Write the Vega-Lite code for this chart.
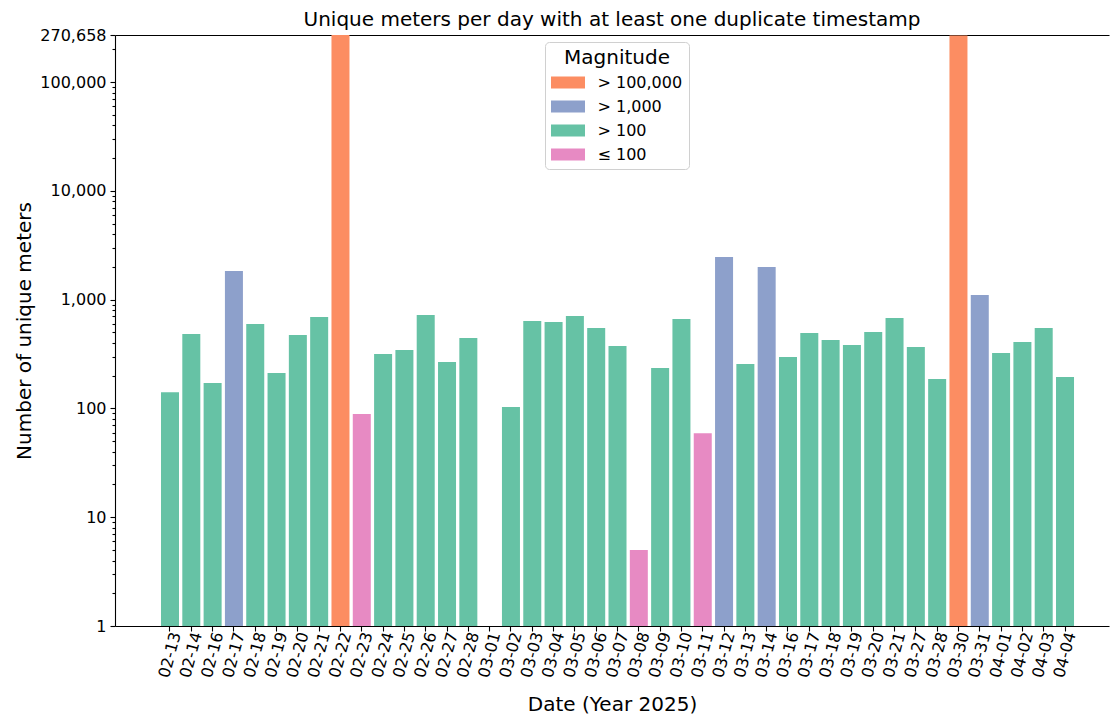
{
  "$schema": "https://vega.github.io/schema/vega-lite/v6.json",
  "autosize": "none",
  "width": 994,
  "height": 591,
  "padding": {"left": 115, "top": 35, "right": 1, "bottom": 91},
  "background": "white",
  "config": {
    "font": "DejaVu Sans",
    "view": {"stroke": null},
    "axis": {"grid": false, "domainColor": "black", "tickColor": "black", "labelColor": "black", "titleColor": "black", "titleFontWeight": "normal", "labelFont": "DejaVu Sans", "titleFont": "DejaVu Sans", "domainWidth": 1.1, "tickWidth": 1.1}
  },
  "title": {"text": "Unique meters per day with at least one duplicate timestamp", "fontSize": 20, "fontWeight": "normal", "font": "DejaVu Sans", "color": "black", "anchor": "middle", "offset": -3},
  "data": {"values": [
    {"date": "02-13", "meters": 141, "magnitude": "> 100"},
    {"date": "02-14", "meters": 483, "magnitude": "> 100"},
    {"date": "02-16", "meters": 171, "magnitude": "> 100"},
    {"date": "02-17", "meters": 1832, "magnitude": "> 1,000"},
    {"date": "02-18", "meters": 597, "magnitude": "> 100"},
    {"date": "02-19", "meters": 212, "magnitude": "> 100"},
    {"date": "02-20", "meters": 473, "magnitude": "> 100"},
    {"date": "02-21", "meters": 692, "magnitude": "> 100"},
    {"date": "02-22", "meters": 270658, "magnitude": "> 100,000"},
    {"date": "02-23", "meters": 89, "magnitude": "≤ 100"},
    {"date": "02-24", "meters": 316, "magnitude": "> 100"},
    {"date": "02-25", "meters": 344, "magnitude": "> 100"},
    {"date": "02-26", "meters": 722, "magnitude": "> 100"},
    {"date": "02-27", "meters": 267, "magnitude": "> 100"},
    {"date": "02-28", "meters": 444, "magnitude": "> 100"},
    {"date": "03-01", "meters": 1, "magnitude": "≤ 100"},
    {"date": "03-02", "meters": 103, "magnitude": "> 100"},
    {"date": "03-03", "meters": 636, "magnitude": "> 100"},
    {"date": "03-04", "meters": 622, "magnitude": "> 100"},
    {"date": "03-05", "meters": 707, "magnitude": "> 100"},
    {"date": "03-06", "meters": 548, "magnitude": "> 100"},
    {"date": "03-07", "meters": 375, "magnitude": "> 100"},
    {"date": "03-08", "meters": 5, "magnitude": "≤ 100"},
    {"date": "03-09", "meters": 235, "magnitude": "> 100"},
    {"date": "03-10", "meters": 663, "magnitude": "> 100"},
    {"date": "03-11", "meters": 59, "magnitude": "≤ 100"},
    {"date": "03-12", "meters": 2465, "magnitude": "> 1,000"},
    {"date": "03-13", "meters": 256, "magnitude": "> 100"},
    {"date": "03-14", "meters": 1994, "magnitude": "> 1,000"},
    {"date": "03-16", "meters": 297, "magnitude": "> 100"},
    {"date": "03-17", "meters": 493, "magnitude": "> 100"},
    {"date": "03-18", "meters": 425, "magnitude": "> 100"},
    {"date": "03-19", "meters": 383, "magnitude": "> 100"},
    {"date": "03-20", "meters": 504, "magnitude": "> 100"},
    {"date": "03-21", "meters": 677, "magnitude": "> 100"},
    {"date": "03-27", "meters": 367, "magnitude": "> 100"},
    {"date": "03-28", "meters": 186, "magnitude": "> 100"},
    {"date": "03-30", "meters": 268000, "magnitude": "> 100,000"},
    {"date": "03-31", "meters": 1102, "magnitude": "> 1,000"},
    {"date": "04-01", "meters": 323, "magnitude": "> 100"},
    {"date": "04-02", "meters": 408, "magnitude": "> 100"},
    {"date": "04-03", "meters": 548, "magnitude": "> 100"},
    {"date": "04-04", "meters": 194, "magnitude": "> 100"}
  ]},
  "resolve": {"axis": {"x": "independent", "y": "independent"}},
  "layer": [
    {
      "mark": {"type": "bar"},
      "encoding": {
        "x": {
          "field": "date", "type": "ordinal", "sort": null,
          "scale": {"type": "band", "domain": ["pad-a", "pad-b", "02-13", "02-14", "02-16", "02-17", "02-18", "02-19", "02-20", "02-21", "02-22", "02-23", "02-24", "02-25", "02-26", "02-27", "02-28", "03-01", "03-02", "03-03", "03-04", "03-05", "03-06", "03-07", "03-08", "03-09", "03-10", "03-11", "03-12", "03-13", "03-14", "03-16", "03-17", "03-18", "03-19", "03-20", "03-21", "03-27", "03-28", "03-30", "03-31", "04-01", "04-02", "04-03", "04-04", "pad-c"], "paddingInner": 0.155, "paddingOuter": 0.4, "align": 0.198},
          "axis": {"title": "Date (Year 2025)", "titleFontSize": 20, "titlePadding": 16, "labelAngle": -75, "labelFontSize": 16, "labelAlign": "right", "labelBaseline": "middle", "labelPadding": 1, "labelOffset": 6, "tickSize": 5, "domain": true,
            "values": ["02-13", "02-14", "02-16", "02-17", "02-18", "02-19", "02-20", "02-21", "02-22", "02-23", "02-24", "02-25", "02-26", "02-27", "02-28", "03-01", "03-02", "03-03", "03-04", "03-05", "03-06", "03-07", "03-08", "03-09", "03-10", "03-11", "03-12", "03-13", "03-14", "03-16", "03-17", "03-18", "03-19", "03-20", "03-21", "03-27", "03-28", "03-30", "03-31", "04-01", "04-02", "04-03", "04-04"]}
        },
        "y": {
          "field": "meters", "type": "quantitative",
          "scale": {"type": "log", "domain": [1, 270658], "nice": false},
          "axis": {"title": "Number of unique meters", "titleFontSize": 20, "titlePadding": 5, "labelFontSize": 16, "tickSize": 5, "labelPadding": 4, "format": ",", "values": [1, 10, 100, 1000, 10000, 100000, 270658]}
        },
        "y2": {"datum": 1},
        "color": {
          "field": "magnitude", "type": "nominal",
          "scale": {"domain": ["> 100,000", "> 1,000", "> 100", "≤ 100"], "range": ["#fc8d62", "#8da0cb", "#66c2a5", "#e78ac3"]},
          "legend": {
            "title": "Magnitude", "orient": "none", "legendX": 430, "legendY": 7,
            "titleFontSize": 20, "titleFontWeight": "normal", "titleAnchor": "middle", "titleColor": "black", "titlePadding": 6,
            "labelFontSize": 16, "labelColor": "black", "labelOffset": 21,
            "symbolType": "M-2,-0.7H2V0.7H-2Z", "symbolSize": 289, "symbolOffset": 8.5, "symbolStrokeWidth": 0, "symbolOpacity": 1,
            "rowPadding": 7, "padding": 6, "strokeColor": "#d0d0d0", "fillColor": "white", "cornerRadius": 4
          }
        }
      }
    },
    {
      "mark": {"type": "tick", "opacity": 0},
      "encoding": {
        "x": {
          "field": "date", "type": "ordinal", "sort": null,
          "axis": {"orient": "top", "title": null, "labels": false, "ticks": false, "domain": true}
        },
        "y": {
          "field": "meters", "type": "quantitative",
          "axis": {"orient": "left", "title": null, "labels": false, "domain": false, "tickSize": 3,
            "values": [2,3,4,5,6,7,8,9,20,30,40,50,60,70,80,90,200,300,400,500,600,700,800,900,2000,3000,4000,5000,6000,7000,8000,9000,20000,30000,40000,50000,60000,70000,80000,90000,200000]}
        }
      }
    }
  ]
}
